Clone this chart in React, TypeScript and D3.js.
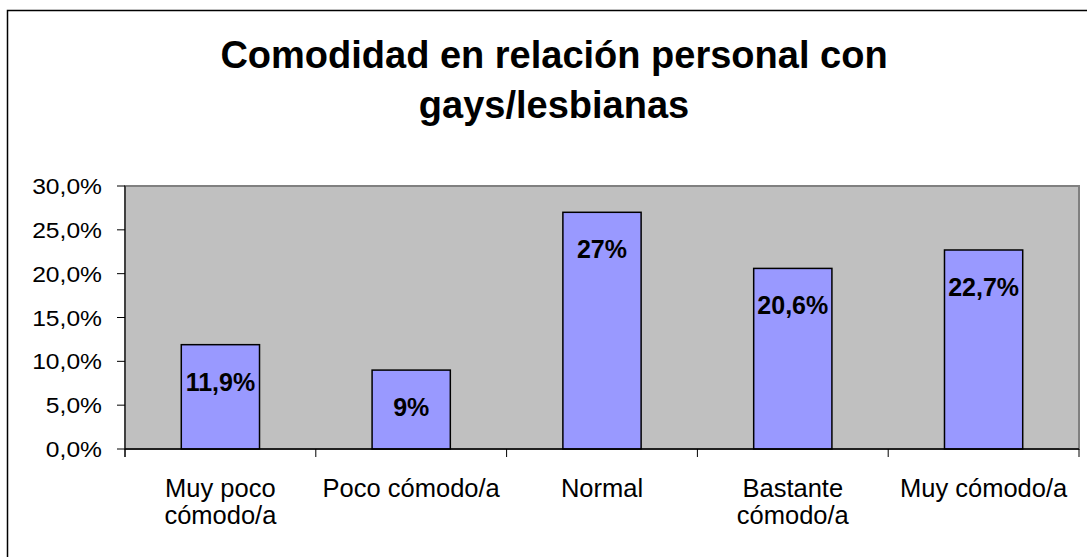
import React from "react";
import { scaleBand, scaleLinear, range } from "d3";

const categories = [
  ["Muy poco", "cómodo/a"],
  ["Poco cómodo/a"],
  ["Normal"],
  ["Bastante", "cómodo/a"],
  ["Muy cómodo/a"],
];
const values = [11.9, 9, 27, 20.6, 22.7];
const valueLabels = ["11,9%", "9%", "27%", "20,6%", "22,7%"];
const yTicks = [0, 5, 10, 15, 20, 25, 30];
const titleLines = ["Comodidad en relación personal con", "gays/lesbianas"];

const W = 1087;
const H = 557;
const plot = { left: 125, right: 1079, top: 186, bottom: 449 };
const font = "'Liberation Sans', Arial, sans-serif";

export default function App() {
  const x = scaleBand<number>()
    .domain(range(categories.length))
    .range([plot.left, plot.right])
    .paddingInner(0.59)
    .paddingOuter(0.295);
  const band = (plot.right - plot.left) / categories.length;
  const y = scaleLinear().domain([0, 30]).range([plot.bottom, plot.top]);
  const cx = (i: number) => (x(i) as number) + x.bandwidth() / 2;

  return (
    <svg
      width={W}
      height={H}
      style={{ position: "absolute", left: 0, top: 0, background: "#fff" }}
      fontFamily={font}
    >
      {/* chart frame */}
      <rect x={7.5} y={10.5} width={W + 20} height={H + 20} fill="#fff" stroke="#000" strokeWidth={1.5} />

      {titleLines.map((t, i) => (
        <text key={i} x={554} y={68 + i * 50} textAnchor="middle" fontSize={38} fontWeight="bold" fill="#000">
          {t}
        </text>
      ))}

      {/* plot area */}
      <rect
        x={plot.left}
        y={plot.top}
        width={plot.right - plot.left}
        height={plot.bottom - plot.top}
        fill="#C0C0C0"
        stroke="#808080"
        strokeWidth={2}
      />

      {/* y axis */}
      <line x1={plot.left} x2={plot.left} y1={plot.top} y2={plot.bottom + 8} stroke="#000" />
      {yTicks.map((t) => (
        <g key={t}>
          <line x1={plot.left - 8} x2={plot.left} y1={y(t)} y2={y(t)} stroke="#000" />
          <g transform={`translate(102,${y(t) + 8}) scale(1.12,1)`}>
            <text textAnchor="end" fontSize={22} fill="#000">
              {t.toFixed(1).replace(".", ",")}%
            </text>
          </g>
        </g>
      ))}

      {/* bars */}
      {values.map((v, i) => (
        <g key={i}>
          <rect
            x={x(i)}
            y={y(v)}
            width={x.bandwidth()}
            height={y(0) - y(v)}
            fill="#9999FF"
            stroke="#000"
            strokeWidth={1.5}
          />
          <text x={cx(i)} y={y(v) + 46} textAnchor="middle" fontSize={25} fontWeight="bold" fill="#000">
            {valueLabels[i]}
          </text>
        </g>
      ))}

      {/* x axis */}
      <line x1={plot.left} x2={plot.right} y1={plot.bottom} y2={plot.bottom} stroke="#000" strokeWidth={1.5} />
      {range(categories.length + 1).map((i) => (
        <line
          key={i}
          x1={plot.left + i * band}
          x2={plot.left + i * band}
          y1={plot.bottom}
          y2={plot.bottom + 8}
          stroke="#000"
        />
      ))}
      {categories.map((lines, i) => (
        <text key={i} textAnchor="middle" fontSize={25.5} fill="#000">
          {lines.map((l, j) => (
            <tspan key={j} x={cx(i)} y={497 + j * 27}>
              {l}
            </tspan>
          ))}
        </text>
      ))}
    </svg>
  );
}
